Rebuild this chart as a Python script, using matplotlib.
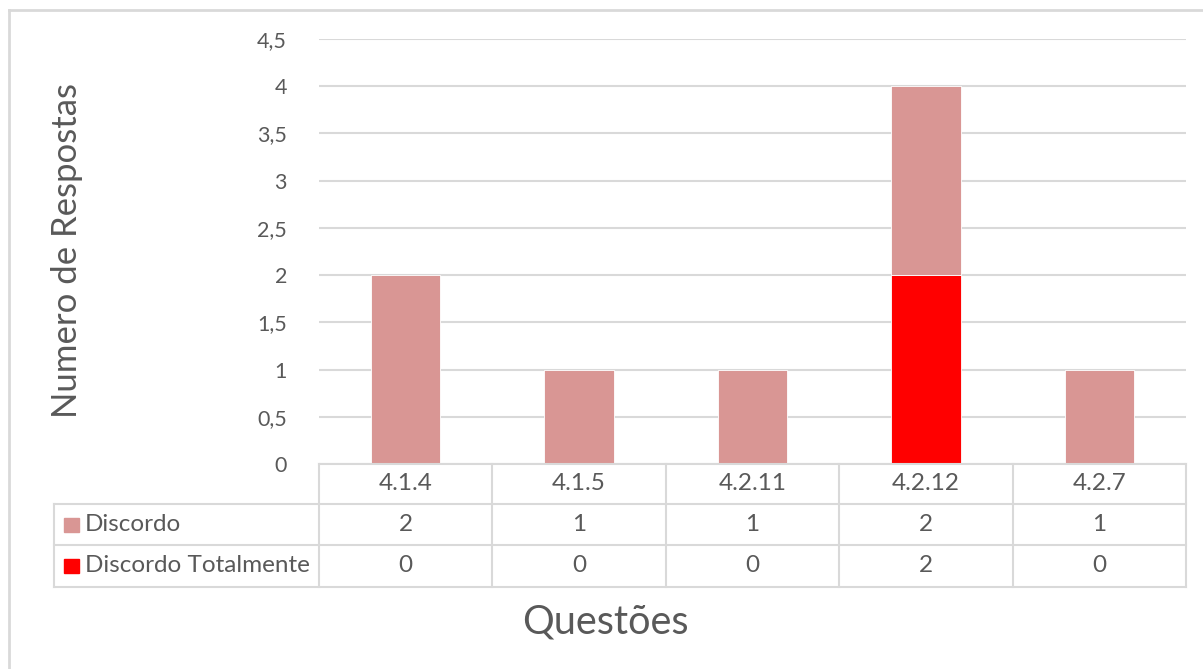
import matplotlib
matplotlib.use("Agg")
import matplotlib.pyplot as plt
from matplotlib.lines import Line2D
from matplotlib.patches import Rectangle
from matplotlib.transforms import blended_transform_factory
from matplotlib.ticker import FuncFormatter

categories = ["4.1.4", "4.1.5", "4.2.11", "4.2.12", "4.2.7"]
discordo_totalmente = [0, 0, 0, 2, 0]
discordo = [2, 1, 1, 2, 1]
series_names = ["Discordo", "Discordo Totalmente"]
y_ticks = [0, 0.5, 1, 1.5, 2, 2.5, 3, 3.5, 4, 4.5]

W, H = 1203, 669
FONT = ["Lato", "DejaVu Sans"]
plt.rcParams['font.family'] = FONT
TXT = "#595959"
GRID = "#D9D9D9"
C_DISC = "#D99694"
C_TOT = "#FF0000"

fig = plt.figure(figsize=(W / 100, H / 100), dpi=100)


def fx(x):
    return x / W


def fy(y):
    return 1 - y / H


ax_left, ax_right, ax_top, ax_bot = 319, 1186, 39, 464
ax = fig.add_axes([fx(ax_left), fy(ax_bot), (ax_right - ax_left) / W, (ax_bot - ax_top) / H])

x = list(range(len(categories)))
ax.bar(x, discordo_totalmente, width=0.4, color=C_TOT, edgecolor="white", linewidth=0.6, zorder=3)
ax.bar(x, discordo, width=0.4, bottom=discordo_totalmente, color=C_DISC, edgecolor="white", linewidth=0.6, zorder=3)
ax.set_xlim(-0.5, len(categories) - 0.5)
ax.set_ylim(0, 4.5)
ax.set_yticks(y_ticks)
ax.yaxis.set_major_formatter(FuncFormatter(lambda v, p: ("%g" % v).replace(".", ",")))
ax.tick_params(axis="y", length=0, pad=23, labelsize=15.5, labelcolor=TXT)
ax.set_xticks([])
ax.grid(axis="y", color=GRID, linewidth=1.5, zorder=0)
for s in ax.spines.values():
    s.set_visible(False)

# y label
fig.text(fx(67), fy(250), "Numero de Respostas", rotation=90, ha="center", va="center",
         fontsize=25, color=TXT)
# x label
fig.text(fx(605), fy(622), "Questões", ha="center", va="center", fontsize=28.5, color=TXT)

# outer frame
fig.add_artist(Line2D([fx(9), fx(1210)], [fy(10), fy(10)], color=GRID, linewidth=2, transform=fig.transFigure))
fig.add_artist(Line2D([fx(9), fx(9)], [fy(10), fy(680)], color=GRID, linewidth=2, transform=fig.transFigure))

# data table
tr = blended_transform_factory(ax.transData, fig.transFigure)
row_y = [464, 504, 545, 587]
table_left = 54
lw = 1.5
fig.add_artist(Line2D([fx(ax_left), fx(ax_right)], [fy(row_y[0])] * 2, color=GRID, linewidth=lw, transform=fig.transFigure))
for yy in row_y[1:]:
    fig.add_artist(Line2D([fx(table_left), fx(ax_right)], [fy(yy)] * 2, color=GRID, linewidth=lw, transform=fig.transFigure))
fig.add_artist(Line2D([fx(table_left)] * 2, [fy(row_y[1]), fy(row_y[3])], color=GRID, linewidth=lw, transform=fig.transFigure))
for i in range(len(categories) + 1):
    fig.add_artist(Line2D([i - 0.5] * 2, [fy(row_y[0]), fy(row_y[3])], color=GRID, linewidth=lw, transform=tr))

fs_tab = 17.5
for i, c in enumerate(categories):
    fig.text(i, fy((row_y[0] + row_y[1]) / 2), c, transform=tr, ha="center", va="center", fontsize=fs_tab, color=TXT)
    fig.text(i, fy((row_y[1] + row_y[2]) / 2), str(discordo[i]), transform=tr, ha="center", va="center", fontsize=fs_tab, color=TXT)
    fig.text(i, fy((row_y[2] + row_y[3]) / 2), str(discordo_totalmente[i]), transform=tr, ha="center", va="center", fontsize=fs_tab, color=TXT)

for r, (name, col) in enumerate(zip(series_names, [C_DISC, C_TOT])):
    yc = (row_y[r + 1] + row_y[r + 2]) / 2
    fig.add_artist(Rectangle((fx(64), fy(yc + 7)), 15 / W, 14 / H, color=col, transform=fig.transFigure))
    fig.text(fx(85), fy(yc), name, ha="left", va="center", fontsize=fs_tab, color=TXT)

fig.savefig("out.png", dpi=100, facecolor="white")
